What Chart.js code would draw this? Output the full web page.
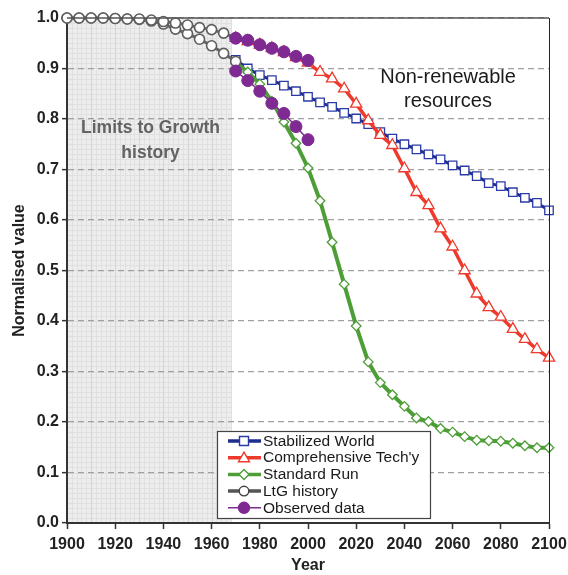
<!DOCTYPE html>
<html>
<head>
<meta charset="utf-8">
<script src="https://cdn.jsdelivr.net/npm/chart.js@4.4.1/dist/chart.umd.min.js"></script>
<style>
  html, body { margin: 0; padding: 0; background: #fff; }
  #wrap { width: 568px; height: 575px; position: relative; }
</style>
</head>
<body>
<div id="wrap"><canvas id="c" width="568" height="575"></canvas></div>
<script>
// ---- Data ----
const historyYears = [1900, 1905, 1910, 1915, 1920, 1925, 1930, 1935, 1940, 1945, 1950, 1955, 1960, 1965, 1970];
const ltgHistoryUpper = [1.000, 1.000, 1.000, 1.000, 0.999, 0.998, 0.998, 0.996, 0.993, 0.990, 0.986, 0.981, 0.977, 0.970, 0.960];
const ltgHistoryLower = [1.000, 1.000, 1.000, 1.000, 0.999, 0.998, 0.997, 0.994, 0.988, 0.978, 0.969, 0.958, 0.945, 0.930, 0.914];

const scenarioYears = [1970, 1975, 1980, 1985, 1990, 1995, 2000, 2005, 2010, 2015, 2020, 2025, 2030, 2035,
                       2040, 2045, 2050, 2055, 2060, 2065, 2070, 2075, 2080, 2085, 2090, 2095, 2100];
const stabilizedWorld = [0.917, 0.900, 0.887, 0.877, 0.866, 0.855, 0.844, 0.833, 0.824, 0.812, 0.801, 0.790, 0.774, 0.761,
                         0.750, 0.740, 0.730, 0.720, 0.708, 0.698, 0.687, 0.673, 0.667, 0.655, 0.644, 0.634, 0.619];
const comprehensiveTech = [0.960, 0.954, 0.947, 0.940, 0.932, 0.922, 0.911, 0.893, 0.880, 0.860, 0.830, 0.797, 0.768, 0.748,
                           0.702, 0.655, 0.629, 0.583, 0.547, 0.500, 0.454, 0.427, 0.408, 0.384, 0.364, 0.344, 0.327];
const standardRun = [0.912, 0.893, 0.869, 0.835, 0.794, 0.752, 0.703, 0.638, 0.556, 0.473, 0.390, 0.319, 0.278, 0.254,
                     0.231, 0.208, 0.201, 0.187, 0.180, 0.171, 0.164, 0.163, 0.162, 0.158, 0.153, 0.149, 0.149];

const observedYears = [1970, 1975, 1980, 1985, 1990, 1995, 2000];
const observedUpper = [0.960, 0.956, 0.947, 0.940, 0.933, 0.924, 0.916];
const observedLower = [0.895, 0.876, 0.855, 0.831, 0.811, 0.785, 0.759];

const xTickYears = [1900, 1920, 1940, 1960, 1980, 2000, 2020, 2040, 2060, 2080, 2100];
const legendLabels = ['Stabilized World', "Comprehensive Tech'y", 'Standard Run', 'LtG history', 'Observed data'];
const shadeEndYear = 1968.5;

// ---- Styles ----
const FONT = '"Liberation Sans", Arial, Helvetica, sans-serif';
const C_BLUE = '#1f2d8c';
const C_BLUE_PT = '#2a3aa6';
const C_RED = '#ee3a2c';
const C_GREEN = '#4e9e38';
const C_GREY = '#666666';
const C_PURPLE = '#7e2a92';

function pts(xs, ys) { return xs.map((x, i) => ({ x: x, y: ys[i] })); }

const datasets = [
  { label: 'Observed data (upper)', data: pts(observedYears, observedUpper), borderColor: C_PURPLE, borderWidth: 1.5,
    pointStyle: 'circle', pointRadius: 6, pointBackgroundColor: C_PURPLE, pointBorderColor: C_PURPLE, pointBorderWidth: 1 },
  { label: 'Observed data (lower)', data: pts(observedYears, observedLower), borderColor: C_PURPLE, borderWidth: 1.5,
    pointStyle: 'circle', pointRadius: 6, pointBackgroundColor: C_PURPLE, pointBorderColor: C_PURPLE, pointBorderWidth: 1 },
  { label: 'LtG history (upper)', data: pts(historyYears, ltgHistoryUpper), borderColor: C_GREY, borderWidth: 3,
    pointStyle: 'circle', pointRadius: 5, pointBackgroundColor: '#fff', pointBorderColor: '#5e5e5e', pointBorderWidth: 1.6 },
  { label: 'LtG history (lower)', data: pts(historyYears, ltgHistoryLower), borderColor: C_GREY, borderWidth: 3,
    pointStyle: 'circle', pointRadius: 5, pointBackgroundColor: '#fff', pointBorderColor: '#5e5e5e', pointBorderWidth: 1.6 },
  { label: 'Standard Run', data: pts(scenarioYears, standardRun), borderColor: C_GREEN, borderWidth: 4,
    pointStyle: 'rectRot', pointRadius: 4.8, pointBackgroundColor: '#fff', pointBorderColor: C_GREEN, pointBorderWidth: 1.3 },
  { label: "Comprehensive Tech'y", data: pts(scenarioYears, comprehensiveTech), borderColor: C_RED, borderWidth: 3.5,
    pointStyle: 'triangle', pointRadius: 6.5, pointBackgroundColor: '#fff', pointBorderColor: C_RED, pointBorderWidth: 1.3 },
  { label: 'Stabilized World', data: pts(scenarioYears, stabilizedWorld), borderColor: C_BLUE, borderWidth: 3,
    pointStyle: 'rect', pointRadius: 6, pointBackgroundColor: '#fff', pointBorderColor: C_BLUE_PT, pointBorderWidth: 1.3 }
];
datasets.forEach(d => { d.tension = 0; d.fill = false; d.clip = false; });

const legendStyles = [
  { color: C_BLUE, lw: 3.5, marker: 'rect', mcol: C_BLUE_PT, fill: '#fff' },
  { color: C_RED, lw: 3.5, marker: 'triangle', mcol: C_RED, fill: '#fff' },
  { color: C_GREEN, lw: 3.5, marker: 'diamond', mcol: C_GREEN, fill: '#fff' },
  { color: '#555', lw: 3.5, marker: 'circle', mcol: '#444', fill: '#fff' },
  { color: C_PURPLE, lw: 1.5, marker: 'dot', mcol: C_PURPLE, fill: C_PURPLE }
];

const decor = {
  id: 'decor',
  beforeDraw(chart) {
    const ctx = chart.ctx, a = chart.chartArea, xs = chart.scales.x, ys = chart.scales.y;
    ctx.save();
    ctx.fillStyle = '#fff';
    ctx.fillRect(0, 0, chart.width, chart.height);
    const x0 = xs.getPixelForValue(1900), x1 = xs.getPixelForValue(shadeEndYear);
    ctx.fillStyle = '#ededed';
    ctx.fillRect(x0, a.top, x1 - x0, a.bottom - a.top);
    // fine mesh
    ctx.lineWidth = 1;
    ctx.strokeStyle = '#e0e0e0';
    ctx.beginPath();
    for (let yr = 1900; yr <= shadeEndYear; yr += 2) {
      const px = Math.round(xs.getPixelForValue(yr)) + 0.5;
      ctx.moveTo(px, a.top); ctx.lineTo(px, a.bottom);
    }
    for (let v = 0; v <= 1.0001; v += 0.01) {
      const py = Math.round(ys.getPixelForValue(v)) + 0.5;
      ctx.moveTo(x0, py); ctx.lineTo(x1, py);
    }
    ctx.stroke();
    ctx.strokeStyle = '#d4d4d4';
    ctx.beginPath();
    for (let yr = 1910; yr <= shadeEndYear; yr += 10) {
      const px = Math.round(xs.getPixelForValue(yr)) + 0.5;
      ctx.moveTo(px, a.top); ctx.lineTo(px, a.bottom);
    }
    ctx.stroke();
    // annotations
    ctx.fillStyle = '#636363';
    ctx.font = 'bold 17.5px ' + FONT;
    ctx.textAlign = 'center';
    ctx.textBaseline = 'middle';
    const cx = (x0 + x1) / 2;
    ctx.fillText('Limits to Growth', cx + 1, 128);
    ctx.fillText('history', cx + 1, 153);
    ctx.fillStyle = '#1a1a1a';
    ctx.font = '20px ' + FONT;
    ctx.fillText('Non-renewable', 448, 77);
    ctx.fillText('resources', 448, 101);
    ctx.restore();
  },
  afterDraw(chart) {
    const ctx = chart.ctx, a = chart.chartArea;
    ctx.save();
    // top and right frame
    ctx.strokeStyle = '#555';
    ctx.lineWidth = 1.5;
    ctx.beginPath();
    ctx.moveTo(a.left, a.top); ctx.lineTo(a.right, a.top);
    ctx.stroke();
    ctx.strokeStyle = '#222';
    ctx.lineWidth = 1;
    ctx.beginPath();
    ctx.moveTo(a.right + 0.5, a.top); ctx.lineTo(a.right + 0.5, a.bottom);
    ctx.stroke();
    // legend box
    const bx = 217, by = 431, bw = 213, bh = 87;
    ctx.fillStyle = '#fff';
    ctx.fillRect(bx, by, bw, bh);
    ctx.strokeStyle = '#444';
    ctx.lineWidth = 1.2;
    ctx.strokeRect(bx + 0.5, by + 0.5, bw, bh);
    ctx.font = '15.5px ' + FONT;
    ctx.textAlign = 'left';
    ctx.textBaseline = 'middle';
    legendLabels.forEach((lab, i) => {
      const st = legendStyles[i];
      const y = 441 + i * 16.7;
      ctx.strokeStyle = st.color;
      ctx.lineWidth = st.lw;
      ctx.beginPath();
      ctx.moveTo(228, y); ctx.lineTo(261, y);
      ctx.stroke();
      const mx = 244;
      ctx.fillStyle = st.fill;
      ctx.strokeStyle = st.mcol;
      ctx.lineWidth = 1.4;
      ctx.beginPath();
      if (st.marker === 'rect') {
        ctx.rect(mx - 4.5, y - 4.5, 9, 9);
      } else if (st.marker === 'triangle') {
        ctx.moveTo(mx, y - 5.5); ctx.lineTo(mx + 5.5, y + 4); ctx.lineTo(mx - 5.5, y + 4); ctx.closePath();
      } else if (st.marker === 'diamond') {
        ctx.moveTo(mx, y - 5); ctx.lineTo(mx + 5, y); ctx.lineTo(mx, y + 5); ctx.lineTo(mx - 5, y); ctx.closePath();
      } else if (st.marker === 'circle') {
        ctx.arc(mx, y, 4.8, 0, Math.PI * 2);
      } else {
        ctx.arc(mx, y, 5.5, 0, Math.PI * 2);
      }
      ctx.fill();
      ctx.stroke();
      ctx.fillStyle = '#1a1a1a';
      ctx.fillText(lab, 263, y + 0.5);
    });
    ctx.restore();
  }
};

new Chart(document.getElementById('c'), {
  type: 'line',
  data: { datasets: datasets },
  plugins: [decor],
  options: {
    responsive: false,
    animation: false,
    devicePixelRatio: 1,
    layout: { padding: { top: 18, right: 19, left: 10, bottom: 0 } },
    plugins: { legend: { display: false }, tooltip: { enabled: false } },
    scales: {
      x: {
        type: 'linear', min: 1900, max: 2100,
        afterBuildTicks(scale) { scale.ticks = xTickYears.map(v => ({ value: v })); },
        afterFit(scale) { scale.height = 52; scale.paddingLeft = 0; scale.paddingRight = 0; },
        grid: { drawOnChartArea: false, drawTicks: true, tickLength: 6, tickColor: '#333', tickWidth: 1.5 },
        border: { display: true, color: '#333', width: 2 },
        ticks: { color: '#222', padding: 6, maxRotation: 0, autoSkip: false,
                 font: { family: FONT, size: 16, weight: 'bold' }, callback: v => String(v) },
        title: { display: true, text: 'Year', color: '#222', padding: { top: 0, bottom: 0 },
                 font: { family: FONT, size: 16, weight: 'bold' } }
      },
      y: {
        type: 'linear', min: 0, max: 1,
        afterFit(scale) { scale.width = 57; scale.paddingTop = 0; scale.paddingBottom = 0; },
        ticks: { stepSize: 0.1, color: '#222', padding: 3,
                 font: { family: FONT, size: 16, weight: 'bold' }, callback: v => Number(v).toFixed(1) },
        grid: { color: '#a0a0a0', lineWidth: 1.3, drawTicks: true, tickLength: 5, tickColor: '#333', tickWidth: 1.5 },
        border: { display: true, color: '#333', width: 2, dash: [6, 4] },
        title: { display: true, text: 'Normalised value', color: '#222', padding: { top: 0, bottom: 2 },
                 font: { family: FONT, size: 16, weight: 'bold' } }
      }
    }
  }
});
</script>
</body>
</html>
